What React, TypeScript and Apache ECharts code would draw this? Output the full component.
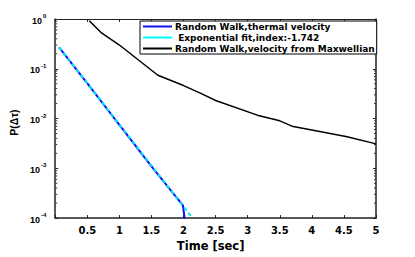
import React, { useEffect, useRef } from "react";
import * as echarts from "echarts";

const thermalT = [0.06, 0.5, 1.0, 1.5, 1.99, 2.04];
const thermalP = [0.27, 0.051, 0.0075, 0.0011, 0.00018, 0.00006];

const fitT = [0.06, 2.14];
const fitP = [0.27, 0.0001];

const maxwT = [0.53, 0.71, 1.0, 1.6, 2.0, 2.27, 2.5, 3.15, 3.5, 3.71, 4.02, 4.55, 5.0];
const maxwP = [0.92, 0.54, 0.3, 0.074, 0.046, 0.032, 0.023, 0.0117, 0.009, 0.0069, 0.0058, 0.0043, 0.0031];

const seriesNames = [
  "Random Walk,thermal velocity",
  " Exponential fit,index:-1.742",
  "Random Walk,velocity from Maxwellian",
];

const decades = [-4, -3, -2, -1];
const minorMultipliers = [2, 3, 4, 5, 6, 7, 8, 9];

const SANS = "Liberation Sans, Arial, sans-serif";
const WIDE = "DejaVu Sans, sans-serif";

export default function App() {
  const ref = useRef<HTMLDivElement>(null);
  useEffect(() => {
    if (!ref.current) return;
    const chart = echarts.init(ref.current, undefined, { renderer: "svg" });
    const minorVals: number[] = [];
    decades.forEach((d) => minorMultipliers.forEach((m) => minorVals.push(m * Math.pow(10, d))));
    const pair = (xs: number[], ys: number[]) => xs.map((x, i) => [x, ys[i]]);
    const axisLine = { onZero: false, lineStyle: { color: "#222", width: 1.5 } };
    const tick = { inside: true, length: 3, lineStyle: { color: "#222" } };
    const option: any = {
      animation: false,
      backgroundColor: "#ffffff",
      grid: { left: 54, top: 19, width: 322, height: 209 },
      legend: {
        left: 140,
        top: 21,
        orient: "vertical",
        data: seriesNames,
        icon: "rect",
        itemWidth: 29,
        itemHeight: 2,
        itemGap: 0,
        padding: [0, 2, 0, 3],
        borderColor: "#000",
        borderWidth: 1,
        borderRadius: 0,
        backgroundColor: "#fff",
        textStyle: { fontFamily: WIDE, fontWeight: "bold", fontSize: 9, lineHeight: 11, color: "#000", padding: [0, 0, 0, -2] },
      },
      xAxis: [
        {
          type: "value",
          min: 0,
          max: 5,
          interval: 0.5,
          name: "Time [sec]",
          nameLocation: "middle",
          nameGap: 21,
          nameTextStyle: { fontFamily: WIDE, fontWeight: "bold", fontSize: 11.5, color: "#000", padding: [0, 10, 0, 0] },
          axisLine,
          axisTick: tick,
          axisLabel: {
            fontFamily: WIDE,
            fontWeight: "bold",
            fontSize: 10,
            color: "#000",
            margin: 7,
            formatter: (v: number) => (v === 0 ? "" : String(v)),
          },
          splitLine: { show: false },
        },
        {
          type: "value",
          position: "top",
          min: 0,
          max: 5,
          interval: 0.5,
          axisLine: { onZero: false, lineStyle: { color: "#222", width: 1 } },
          axisTick: tick,
          axisLabel: { show: false },
          splitLine: { show: false },
        },
      ],
      yAxis: [
        {
          type: "log",
          logBase: 10,
          min: 0.0001,
          max: 1,
          name: "P(\u0394\u03c4)",
          nameLocation: "middle",
          nameGap: 36,
          nameTextStyle: { fontFamily: SANS, fontWeight: "bold", fontSize: 10.5, color: "#000", padding: [0, 8, 0, 0] },
          axisLine,
          axisTick: tick,
          axisLabel: {
            margin: 9,
            formatter: (v: number) => {
              const e = Math.round(Math.log10(v));
              return "{b|10}{s|" + e + "}";
            },
            rich: {
              b: { fontFamily: SANS, fontWeight: "bold", fontSize: 9, color: "#000", verticalAlign: "bottom" },
              s: { fontFamily: SANS, fontWeight: "bold", fontSize: 6, color: "#000", verticalAlign: "top", padding: [0, 0, 6, 1] },
            },
          },
          splitLine: { show: false },
        },
        {
          type: "log",
          logBase: 10,
          min: 0.0001,
          max: 1,
          position: "right",
          axisLine,
          axisTick: tick,
          axisLabel: { show: false },
          splitLine: { show: false },
        },
      ],
      series: [
        {
          name: seriesNames[0],
          type: "line",
          data: pair(thermalT, thermalP),
          symbol: "none",
          color: "#1010f0",
          lineStyle: { width: 2, color: "#1010f0" },
          clip: true,
          z: 3,
        },
        {
          name: seriesNames[1],
          type: "line",
          data: pair(fitT, fitP),
          symbol: "none",
          color: "#00ffff",
          lineStyle: { width: 2, color: "#00e8f8", type: [4, 3] },
          clip: true,
          z: 4,
        },
        {
          name: seriesNames[2],
          type: "line",
          data: pair(maxwT, maxwP),
          symbol: "none",
          color: "#000",
          lineStyle: { width: 1.5, color: "#000" },
          clip: true,
          z: 3,
        },
        {
          type: "custom",
          silent: true,
          data: minorVals.map((v) => [0, v]),
          renderItem: (params: any, api: any) => {
            const cs = params.coordSys;
            const y = api.coord([0, api.value(1)])[1];
            return {
              type: "group",
              children: [
                { type: "line", shape: { x1: cs.x, y1: y, x2: cs.x + 2, y2: y }, style: { stroke: "#333", lineWidth: 1 } },
                { type: "line", shape: { x1: cs.x + cs.width - 2, y1: y, x2: cs.x + cs.width, y2: y }, style: { stroke: "#333", lineWidth: 1 } },
              ],
            };
          },
          z: 2,
        },
      ],
    };
    chart.setOption(option);
    return () => chart.dispose();
  }, []);
  return <div ref={ref} style={{ width: 415, height: 257, position: "absolute", left: 0, top: 0 }} />;
}
